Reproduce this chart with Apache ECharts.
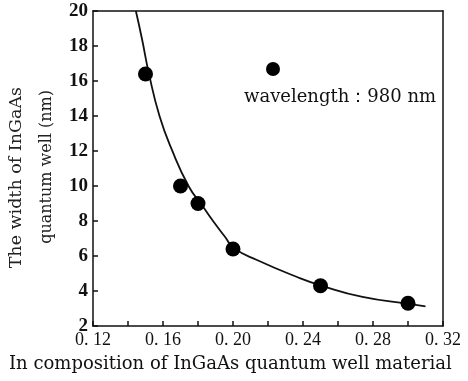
<!DOCTYPE html>
<html>
<head>
<meta charset="utf-8">
<script src="https://cdn.jsdelivr.net/npm/echarts@6/dist/echarts.min.js"></script>
<style>
    html, body { margin: 0; padding: 0; background: #fff; }
    #chart { width: 468px; height: 381px; }
</style>
</head>
<body>
<div id="chart"></div>
<script>
// measured points: In composition vs. quantum well width (nm)
var composition = [0.15, 0.17, 0.18, 0.20, 0.25, 0.30];
var wellWidth = [16.4, 10.0, 9.0, 6.4, 4.3, 3.3];

// hand-drawn fit curve
var fitX = [0.1445, 0.148, 0.152, 0.158, 0.1651, 0.1749, 0.1823, 0.1886, 0.1954, 0.2006, 0.2137, 0.2366, 0.251, 0.274, 0.3006, 0.31];
var fitY = [20, 18.4, 16.4, 14.0, 12.06, 9.94, 8.9, 8.0, 7.1, 6.45, 5.77, 4.8, 4.29, 3.66, 3.26, 3.12];

var legendText = 'wavelength：980 nm';
var xTitle = 'In composition of InGaAs quantum well material';
var yTitle = ['The width of InGaAs', 'quantum well (nm)'];

var serif = '"Liberation Serif", "DejaVu Serif", serif';
var wideSerif = '"DejaVu Serif", serif';

var chart = echarts.init(document.getElementById('chart'));

var points = composition.map(function (x, i) { return [x, wellWidth[i]]; });
var fit = fitX.map(function (x, i) { return [x, fitY[i]]; });

var option = {
    backgroundColor: '#fff',
    animation: false,
    grid: { left: 93, right: 25, top: 11, bottom: 55 },
    xAxis: [{
        type: 'value',
        min: 0.12,
        max: 0.32,
        interval: 0.02,
        axisLine: { lineStyle: { color: '#111', width: 1.5 } },
        axisTick: { inside: true, length: 5, lineStyle: { color: '#111', width: 1.5 } },
        splitLine: { show: false },
        axisLabel: {
            margin: 5,
            color: '#111',
            fontFamily: serif,
            fontSize: 18,
            formatter: function (v) {
                // label every other tick
                if (Math.round(v * 100) % 4 !== 0) return '';
                return v.toFixed(2).replace('.', '. ');
            }
        }
    }, {
        type: 'value',
        position: 'top',
        min: 0.12,
        max: 0.32,
        axisLine: { show: true, onZero: false, lineStyle: { color: '#111', width: 1.5 } },
        axisTick: { show: false },
        axisLabel: { show: false },
        splitLine: { show: false }
    }],
    yAxis: [{
        type: 'value',
        min: 2,
        max: 20,
        interval: 2,
        axisLine: { show: true, lineStyle: { color: '#111', width: 1.5 } },
        axisTick: { show: true, inside: true, length: 5, lineStyle: { color: '#111', width: 1.5 } },
        splitLine: { show: false },
        axisLabel: {
            margin: 5,
            color: '#111',
            fontFamily: serif,
            fontWeight: 'bold',
            fontSize: 19
        }
    }, {
        type: 'value',
        position: 'right',
        min: 2,
        max: 20,
        axisLine: { show: true, onZero: false, lineStyle: { color: '#111', width: 1.5 } },
        axisTick: { show: false },
        axisLabel: { show: false },
        splitLine: { show: false }
    }],
    series: [{
        name: 'fit',
        type: 'line',
        data: fit,
        smooth: 0.5,
        showSymbol: false,
        lineStyle: { color: '#111', width: 1.8 },
        z: 2
    }, {
        name: legendText,
        type: 'scatter',
        data: points,
        symbol: 'circle',
        symbolSize: 15,
        itemStyle: { color: '#000', opacity: 1 },
        z: 3
    }],
    graphic: [{
        type: 'circle',
        left: 266,
        top: 62,
        shape: { r: 7 },
        style: { fill: '#000' }
    }, {
        type: 'text',
        left: 244,
        top: 88,
        style: { text: legendText, font: '18px ' + wideSerif, fill: '#111' }
    }, {
        type: 'text',
        left: 9,
        top: 355,
        style: { text: xTitle, font: '18px ' + wideSerif, fill: '#111' }
    }, {
        type: 'text',
        x: 7,
        y: 87,
        rotation: Math.PI / 2,
        style: { text: yTitle[0], font: '17.5px ' + wideSerif, fill: '#222', align: 'right', verticalAlign: 'top' }
    }, {
        type: 'text',
        x: 39,
        y: 90,
        rotation: Math.PI / 2,
        style: { text: yTitle[1], font: '16px ' + wideSerif, fill: '#222', align: 'right', verticalAlign: 'top' }
    }]
};

chart.setOption(option);
</script>
</body>
</html>
